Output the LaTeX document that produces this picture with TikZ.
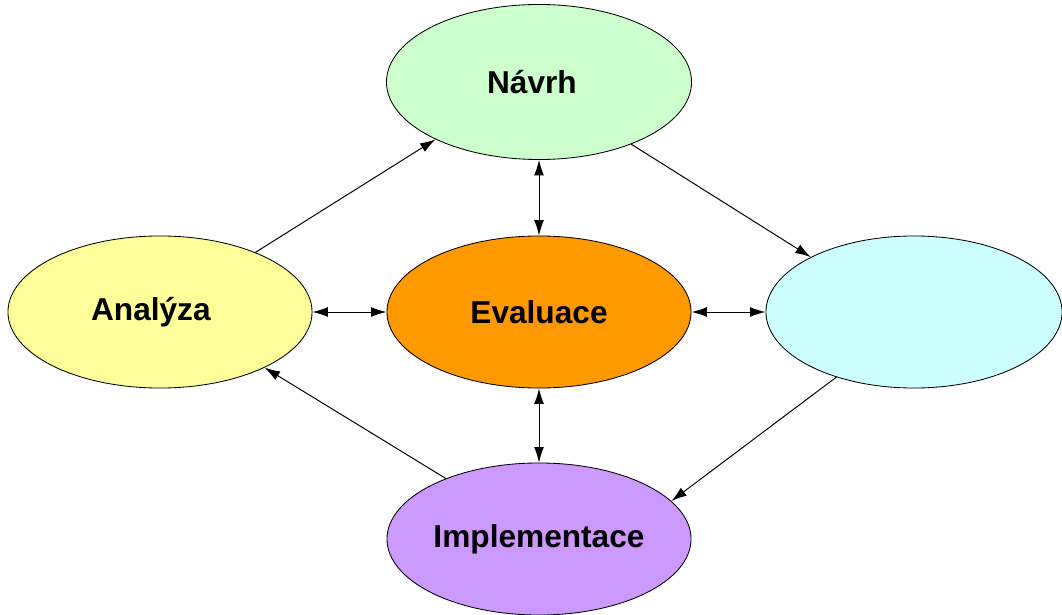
\documentclass[tikz,border=0pt]{standalone}
\usepackage{fontspec}
\setmainfont{Liberation Sans}
\usepackage{tikz}
\usetikzlibrary{shapes.geometric,arrows.meta}

\definecolor{navrhgreen}{HTML}{CCFFCC}
\definecolor{evalorange}{HTML}{FF9900}
\definecolor{analyellow}{HTML}{FFFF99}
\definecolor{emptycyan}{HTML}{CCFFFF}
\definecolor{implviolet}{HTML}{CC99FF}

\begin{document}
\begin{tikzpicture}[x=0.025cm,y=-0.025cm,
    phase/.style={ellipse,draw=black,line width=0.6pt,inner sep=0pt,
      minimum width=7.6cm,minimum height=3.8cm,
      font=\fontsize{22.5}{27}\selectfont\bfseries},
    flow/.style={-{Latex[length=11pt,width=7pt]},line width=0.7pt},
    both/.style={{Latex[length=11pt,width=7pt]}-{Latex[length=11pt,width=7pt]},line width=0.7pt}]
    \useasboundingbox (0,0) rectangle (1062,615);

    % Phases
    \node[phase,fill=navrhgreen,minimum width=7.625cm,minimum height=3.875cm] (navrh) at (539,82) {Návrh\kern10pt};
    \node[phase,fill=evalorange] (eval) at (539,312) {Evaluace};
    \node[phase,fill=analyellow] (analyza) at (160,312) {Analýza\kern13pt};
    \node[phase,fill=emptycyan,minimum width=7.4cm] (right) at (914,312) {};
    \node[phase,fill=implviolet] (impl) at (539,539) {Implementace};

    % Cycle round the outside
    \draw[flow] (analyza.32) -- (navrh.-151);
    \draw[flow] (navrh.-34) -- (right.152);
    \draw[flow] (right.-140) -- (impl.16);
    \draw[flow] (impl.147) -- (analyza.-28);

    % Links to the evaluation
    \draw[both] (analyza) -- (eval);
    \draw[both] (eval) -- (right);
    \draw[both] (navrh) -- (eval);
    \draw[both] (eval) -- (impl);

\end{tikzpicture}
\end{document}
